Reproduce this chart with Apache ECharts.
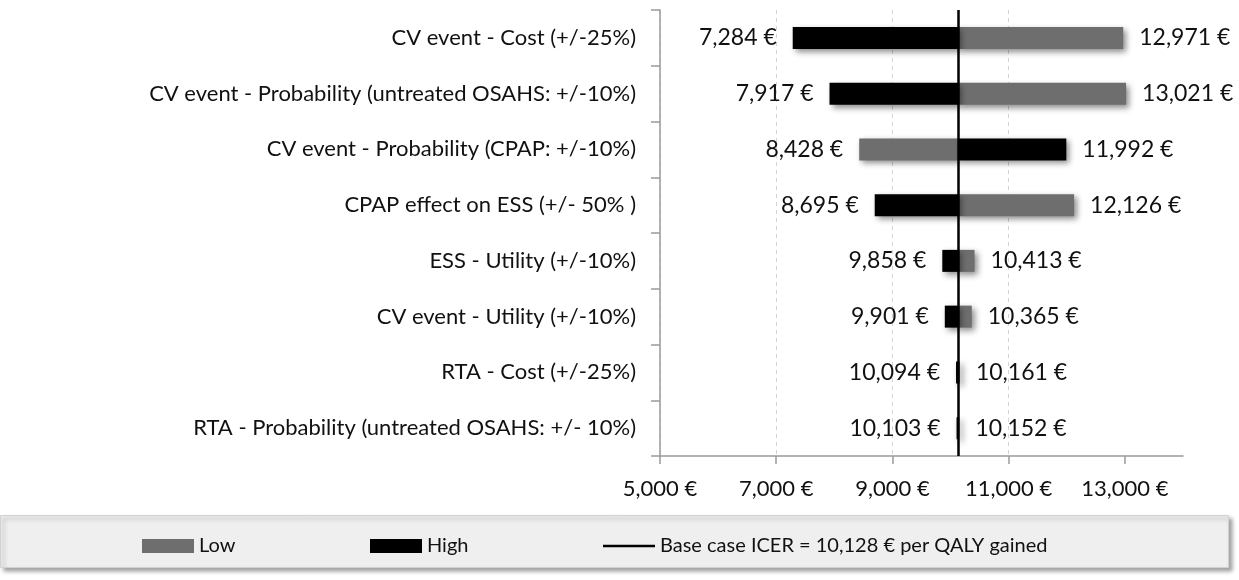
<!DOCTYPE html>
<html lang="en">
<head>
    <meta charset="UTF-8"/>
    <title>Tornado diagram</title>
    <style>
        html, body {
            margin: 0;
            padding: 0;
            width: 100vw;
            height: 100vh;
            background: #ffffff;
            overflow: hidden;
        }

        #chart {
            width: 1239px;
            height: 580px;
        }
    </style>
</head>
<body>
<div id="chart"></div>
<script src="https://cdn.jsdelivr.net/npm/echarts@6/dist/echarts.min.js"></script>
<script>
    const chart = echarts.init(document.getElementById('chart'));

    const FONT = 'Lato, "Noto Sans", sans-serif';

    // Parameters, top to bottom
    const categories = [
        'CV event - Cost (+/-25%)',
        'CV event - Probability (untreated OSAHS: +/-10%)',
        'CV event - Probability (CPAP: +/-10%)',
        'CPAP effect on ESS (+/- 50% )',
        'ESS - Utility (+/-10%)',
        'CV event - Utility (+/-10%)',
        'RTA - Cost (+/-25%)',
        'RTA - Probability (untreated OSAHS: +/- 10%)'
    ];
    // ICER with the parameter at its low / high value
    const lowValues = [12971, 13021, 8428, 12126, 10413, 10365, 10161, 10152];
    const highValues = [7284, 7917, 11992, 8695, 9858, 9901, 10094, 10103];
    const baseCase = 10128;
    const xTicks = [5000, 7000, 9000, 11000, 13000];

    const euro = v => v.toLocaleString('en-US') + ' €';
    const baseName = 'Base case ICER = ' + euro(baseCase) + ' per QALY gained';

    const barShadow = {
        shadowColor: 'rgba(0,0,0,0.45)',
        shadowBlur: 6,
        shadowOffsetX: 3,
        shadowOffsetY: 3
    };

    // a transparent piece from the axis up to the start of each bar, then the bar itself
    function offsetSeries(stack, values) {
        return {
            type: 'bar',
            stack: stack,
            silent: true,
            barWidth: 22,
            itemStyle: {color: 'transparent'},
            data: values.map(v => Math.min(v, baseCase))
        };
    }

    function barSeries(name, stack, values, color) {
        return {
            name: name,
            type: 'bar',
            stack: stack,
            barWidth: 22,
            barGap: '-100%',
            itemStyle: Object.assign({color: color}, barShadow),
            label: {
                show: true,
                color: '#111',
                fontFamily: FONT,
                fontSize: 23,
                distance: 16
            },
            data: values.map(v => ({
                value: Math.abs(v - baseCase),
                label: {
                    position: v < baseCase ? 'left' : 'right',
                    formatter: () => euro(v)
                }
            }))
        };
    }

    const legendText = {color: '#111', fontFamily: FONT, fontSize: 20};
    const legendBase = {top: 536, itemWidth: 52, itemHeight: 14, itemGap: 4, textStyle: legendText, padding: 0};

    const option = {
        backgroundColor: '#ffffff',
        animation: false,
        graphic: [{
            type: 'rect',
            left: 0,
            top: 515,
            shape: {width: 1228, height: 52},
            style: {
                fill: '#efefef',
                stroke: '#d2d2d2',
                shadowColor: 'rgba(0,0,0,0.35)',
                shadowBlur: 4,
                shadowOffsetX: 3,
                shadowOffsetY: 3
            },
            z: -1
        }],
        legend: [
            Object.assign({data: [{name: 'Low', icon: 'rect'}], left: 142}, legendBase),
            Object.assign({data: [{name: 'High', icon: 'rect'}], left: 370}, legendBase),
            Object.assign({data: [{name: baseName, icon: 'path://M0,0H52V2.5H0Z'}], left: 603}, legendBase)
        ],
        grid: {
            left: 660,
            right: 56,
            top: 10,
            bottom: 124
        },
        xAxis: {
            type: 'value',
            min: 5000,
            max: 14000,
            interval: 2000,
            axisLine: {show: true, lineStyle: {color: '#9a9a9a', width: 1.5}},
            axisTick: {show: true, length: 8, customValues: xTicks, lineStyle: {color: '#9a9a9a', width: 1.5}},
            splitLine: {show: true, showMaxLine: false, lineStyle: {color: '#d4d4d4', type: [4, 4]}},
            axisLabel: {
                color: '#111',
                fontFamily: FONT,
                fontSize: 22,
                margin: 22,
                customValues: xTicks,
                formatter: v => xTicks.includes(v) ? euro(v) : ''
            }
        },
        yAxis: {
            type: 'category',
            inverse: true,
            data: categories,
            axisLine: {show: true, lineStyle: {color: '#9a9a9a', width: 1.5}},
            axisTick: {show: true, length: 9, lineStyle: {color: '#9a9a9a', width: 1.5}},
            axisLabel: {
                color: '#111',
                fontFamily: FONT,
                fontSize: 22,
                margin: 24
            }
        },
        series: [
            offsetSeries('low', lowValues),
            barSeries('Low', 'low', lowValues, '#6e6e6e'),
            offsetSeries('high', highValues),
            barSeries('High', 'high', highValues, '#000000'),
            {
                name: baseName,
                type: 'line',
                symbol: 'none',
                data: [],
                lineStyle: {color: '#000', width: 2},
                itemStyle: {color: '#000'},
                markLine: {
                    silent: true,
                    symbol: 'none',
                    label: {show: false},
                    lineStyle: {color: '#000', width: 2.5, type: 'solid'},
                    data: [{xAxis: baseCase}]
                },
                z: 5
            }
        ]
    };

    chart.setOption(option);
</script>
</body>
</html>
